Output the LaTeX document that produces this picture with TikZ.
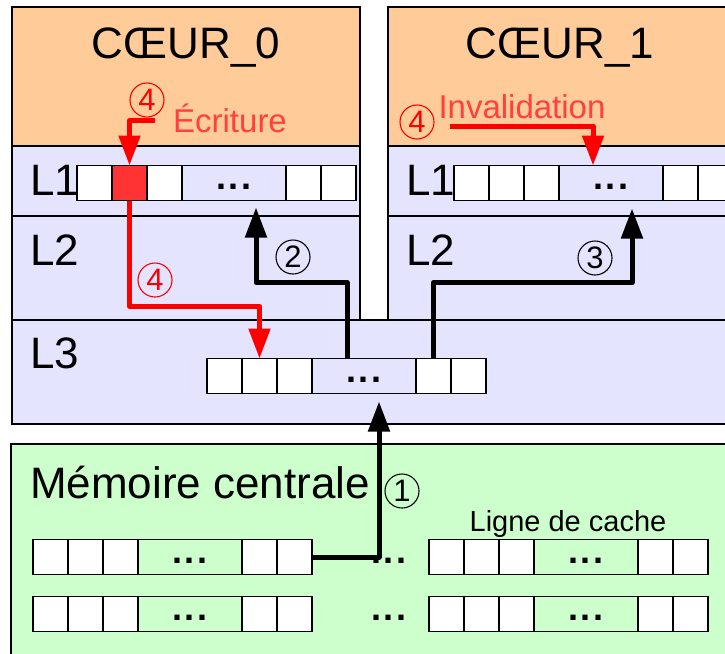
\documentclass[tikz,border=0pt]{standalone}
\usepackage{fontspec}
\setmainfont{Liberation Sans}
\usetikzlibrary{positioning,arrows.meta}

\definecolor{coeur}{HTML}{FFCC99}
\definecolor{cache}{HTML}{E4E4FF}
\definecolor{memoire}{HTML}{CCFFCC}
\definecolor{rouge}{HTML}{FF0000}
\definecolor{rougeclair}{HTML}{FF4040}
\definecolor{caserouge}{HTML}{FF3333}

\tikzset{
  cell/.style={draw, fill=white, line width=1.5pt, minimum width=35pt, minimum height=35pt, inner sep=0pt, outer sep=0pt},
  dotcell/.style={cell, minimum width=104pt},
  dots/.style={anchor=base, font=\fontsize{36}{36}\selectfont\bfseries, inner sep=0pt},
}

% spaced "..."
\newcommand{\pts}{.\kern2.5pt.\kern2.5pt.}

% one cache line: name, left x, middle y, fill of the "..." part
\newcommand{\cacheline}[4]{%
  \node[cell, anchor=west] (#1-1) at (#2,#3) {};
  \node[cell, right=0pt of #1-1] (#1-2) {};
  \node[cell, right=0pt of #1-2] (#1-3) {};
  \node[dotcell, fill=#4, right=0pt of #1-3] (#1-d) {};
  \node[cell, right=0pt of #1-d] (#1-5) {};
  \node[cell, right=0pt of #1-5] (#1-6) {};
  \node[dots] (#1-t) at ([yshift=-6pt]#1-d.center) {\pts};
}

\begin{document}
\begin{tikzpicture}[
    x=1pt, y=-1pt,
    zone/.style={draw, line width=1.5pt},
    big/.style={font=\fontsize{44}{48}\selectfont, inner sep=0pt},
    lvl/.style={big, anchor=base west},
    note/.style={font=\fontsize{33}{36}\selectfont, text=rougeclair, inner sep=0pt, anchor=base},
    num/.style={circle, draw, line width=1.1pt, minimum size=34pt, inner sep=0pt, font=\fontsize{31}{31}\selectfont},
    numred/.style={num, draw=rouge, text=rouge},
    flow/.style={line width=5pt, line join=round, -{Triangle[width=21pt,length=30pt]}},
    flowred/.style={flow, color=rouge}
]
\useasboundingbox (0,0) rectangle (725,653);
\clip (0,0) rectangle (725,653);

% Cores, L1 / L2, shared L3 and memory
\draw[zone, fill=coeur] (12,7) rectangle (360,146);
\draw[zone, fill=cache] (12,146) rectangle (360,216);
\draw[zone, fill=cache] (12,216) rectangle (360,320);
\draw[zone, fill=coeur] (388,7) rectangle (740,146);
\draw[zone, fill=cache] (388,146) rectangle (740,216);
\draw[zone, fill=cache] (388,216) rectangle (740,320);
\draw[zone, fill=cache] (12,320) rectangle (740,424);
\draw[zone, fill=memoire] (11,444) rectangle (740,670);

% Titles and level names
\node[big, anchor=base] (coeur0) at (186,58) {CŒUR\_0};
\node[big, anchor=base] (coeur1) at (560,58) {CŒUR\_1};
\node[lvl] (l1a-lbl) at (30,195) {L1};
\node[lvl] (l2a-lbl) at (30,265) {L2};
\node[lvl] (l3-lbl) at (30,368) {L3};
\node[lvl] (l1b-lbl) at (406,195) {L1};
\node[lvl] (l2b-lbl) at (406,265) {L2};
\node[lvl] (mem-lbl) at (30,498) {Mémoire centrale};

% Cache lines
\cacheline{l1a}{77}{183}{cache}
\cacheline{l1b}{454}{183}{cache}
\cacheline{l3}{207}{376}{cache}
\cacheline{mem1}{33}{557}{memoire}
\cacheline{mem2}{33}{614}{memoire}
\cacheline{mem3}{429}{557}{memoire}
\cacheline{mem4}{429}{614}{memoire}
\draw[line width=1.5pt, fill=caserouge] (l1a-2.north west) rectangle (l1a-2.south east);

\node[dots] (mid1) at (389,563) {\pts};
\node[dots] (mid2) at (389,620) {\pts};
\node[font=\fontsize{29}{32}\selectfont, inner sep=0pt, anchor=base] (ligne) at (568,531) {Ligne de cache};

% Arrow ends
\coordinate (t1) at ([xshift=15pt,yshift=-8pt]l3-d.south);
\coordinate (t2) at ([xshift=22pt,yshift=-7pt]l1a-d.south);
\coordinate (t3) at ([xshift=21pt,yshift=-8pt]l1b-d.south);
\coordinate (t4) at ([xshift=-18pt]l1b-d.north);
\coordinate (i4) at (450,126);

% 1: memory -> L3, 2: L3 -> L1 core 0, 3: L3 -> L1 core 1
\draw[flow] (mem1-6.east) -| (t1);
\draw[flow] ([xshift=35pt]l3-d.north west) -- ++(0,-76) -| (t2);
\draw[flow] (l3-5.north) -- ++(0,-76) -| (t3);

% 4: write, write-through and invalidation
\draw[flowred] ([xshift=25pt,yshift=45pt]l1a-2.north) -| (l1a-2.north);
\draw[flowred] (l1a-2.south) -- ++(0,106) -| (l3-2.north);
\draw[flowred] (i4) -| (t4);

\node[note] (ecr) at (230,132) {Écriture};
\node[note] (inv) at (522,118) {Invalidation};

% Step numbers
\node[num] (n1) at (402,491) {1};
\node[num] (n2) at (293,257) {2};
\node[num] (n3) at (595,258) {3};
\node[numred] (n4a) at (147,100) {4};
\node[numred] (n4b) at (155,280) {4};
\node[numred] (n4c) at (417,122) {4};

\end{tikzpicture}
\end{document}
